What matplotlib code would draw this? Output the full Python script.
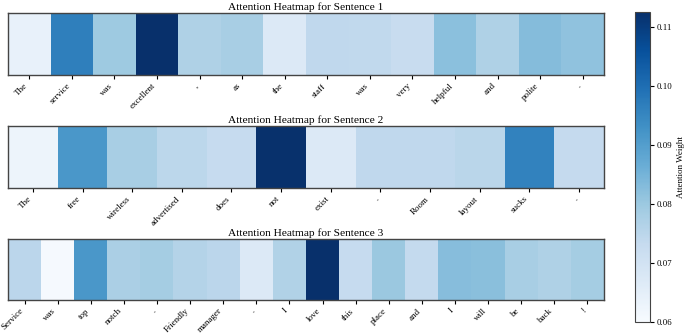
import matplotlib
matplotlib.use("Agg")
import matplotlib.pyplot as plt
import numpy as np
from matplotlib.colors import Normalize

plt.rcParams['font.family'] = ['Liberation Serif', 'DejaVu Serif']

tokens1 = ["The", "service", "was", "excellent", ",", "as", "the", "staff", "was",
           "very", "helpful", "and", "polite", "."]
weights1 = [0.064, 0.0965, 0.0795, 0.1125, 0.077, 0.078, 0.067, 0.074, 0.0738,
            0.0725, 0.082, 0.077, 0.0828, 0.0815]

tokens2 = ["The", "free", "wireless", "advertised", "does", "not", "exist", ".",
           "Room", "layout", "sucks", "."]
weights2 = [0.0625, 0.0915, 0.078, 0.0747, 0.073, 0.1122, 0.067, 0.074, 0.074,
            0.075, 0.0957, 0.0732]

tokens3 = ["Service", "was", "top", "notch", ".", "Friendly", "manager", ".", "I",
           "love", "this", "place", "and", "I", "will", "be", "back", "!"]
weights3 = [0.0748, 0.0605, 0.0915, 0.0775, 0.0785, 0.076, 0.0748, 0.067, 0.0765,
            0.1125, 0.073, 0.080, 0.0735, 0.0826, 0.0822, 0.078, 0.077, 0.0785]

titles = ["Attention Heatmap for Sentence 1", "Attention Heatmap for Sentence 2",
          "Attention Heatmap for Sentence 3"]

fig = plt.figure(figsize=(6.85, 3.36), dpi=100)
norm = Normalize(vmin=0.06, vmax=max(weights1 + weights2 + weights3))

positions = [[0.0117, 0.777, 0.870, 0.1845],
             [0.0117, 0.4405, 0.870, 0.1845],
             [0.0117, 0.107, 0.870, 0.1815]]

im = None
for pos, toks, w, title in zip(positions, [tokens1, tokens2, tokens3],
                               [weights1, weights2, weights3], titles):
    ax = fig.add_axes(pos)
    im = ax.imshow(np.array(w)[None, :], cmap='Blues', norm=norm, aspect='auto')
    ax.set_xticks(range(len(toks)))
    ax.set_xticklabels(toks, rotation=45, ha='right', fontsize=6.5)
    ax.set_yticks([])
    ax.tick_params(axis='x', length=3, width=0.8, pad=2)
    ax.set_title(title, fontsize=8.2, pad=2)
    for s in ax.spines.values():
        s.set_color('#444444')
        s.set_linewidth(1.0)

cax = fig.add_axes([0.927, 0.0417, 0.022, 0.9226])
cb = fig.colorbar(im, cax=cax)
cb.set_label("Attention Weight", fontsize=6.5, labelpad=3)
cb.ax.tick_params(labelsize=6.3, length=3, pad=2)
cb.outline.set_edgecolor('#444444')
cb.set_ticks([0.06, 0.07, 0.08, 0.09, 0.10, 0.11])
cb.set_ticklabels(["0.06", "0.07", "0.08", "0.09", "0.10", "0.11"])

fig.savefig("out.png", dpi=100)
